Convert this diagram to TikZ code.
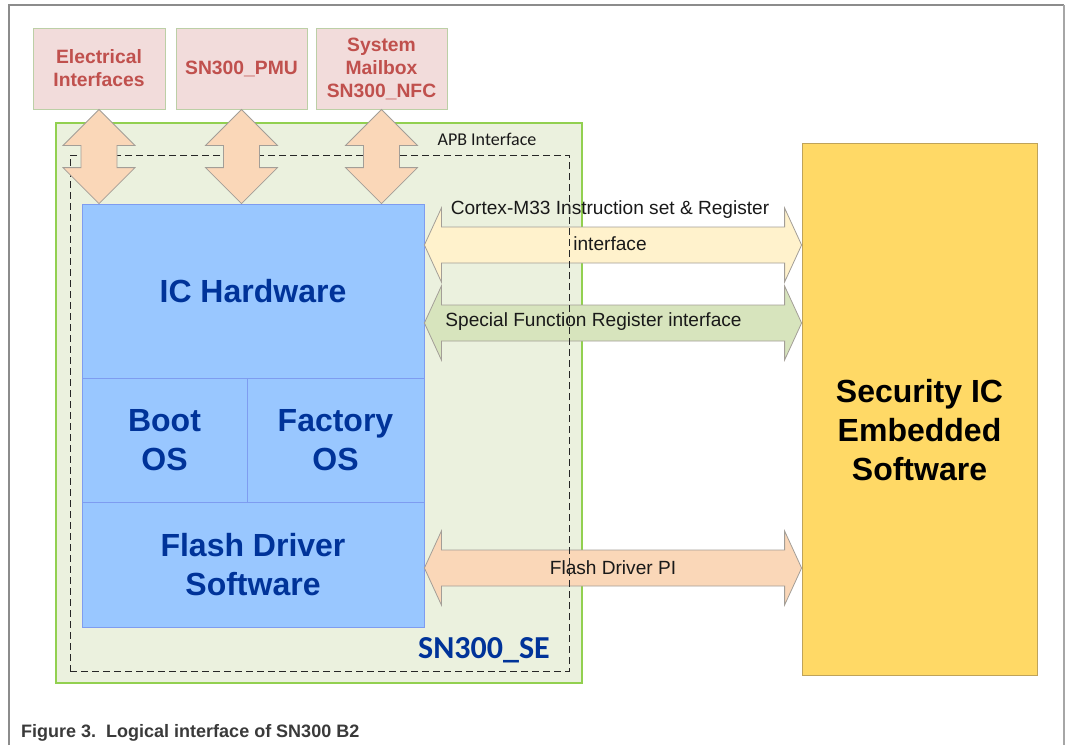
\documentclass[tikz,border=0pt]{standalone}
\usepackage{fontspec}
\setmainfont{Liberation Sans}
\newfontfamily\carlito{Carlito}
\usetikzlibrary{calc}
\definecolor{framegray}{HTML}{8C8C8C}
\definecolor{topfill}{HTML}{F2DCDB}
\definecolor{topborder}{HTML}{BCCFA6}
\definecolor{topred}{HTML}{C0504D}
\definecolor{sefill}{HTML}{EBF1DE}
\definecolor{seborder}{HTML}{92D050}
\definecolor{bluefill}{HTML}{99C7FF}
\definecolor{blueborder}{HTML}{7E9CF0}
\definecolor{bluetext}{HTML}{003399}
\definecolor{peach}{HTML}{FAD7B8}
\definecolor{paleyellow}{HTML}{FFF2CC}
\definecolor{palegreen}{HTML}{D7E4BD}
\definecolor{arrowborder}{HTML}{A39E97}
\definecolor{secfill}{HTML}{FFD966}
\definecolor{secborder}{HTML}{BFA35A}
\definecolor{captiongray}{HTML}{3A3A3A}
\newcommand\vblockarrow[3]{%
  \path[#3] let \p1=#1, \p2=#2 in
   (\x1,\y1) -- (\x1+36pt,\y1-36pt) -- (\x1+18pt,\y1-36pt) -- (\x1+18pt,\y2+36pt)
   -- (\x1+36pt,\y2+36pt) -- (\x1,\y2) -- (\x1-36pt,\y2+36pt) -- (\x1-18pt,\y2+36pt)
   -- (\x1-18pt,\y1-36pt) -- (\x1-36pt,\y1-36pt) -- cycle;}
\newcommand\hblockarrow[3]{%
  \path[#3] let \p1=#1, \p2=#2 in
   (\x1,\y1) -- (\x1+17pt,\y1+37pt) -- (\x1+17pt,\y1+18pt) -- (\x2-17pt,\y1+18pt)
   -- (\x2-17pt,\y1+37pt) -- (\x2,\y1) -- (\x2-17pt,\y1-37pt) -- (\x2-17pt,\y1-18pt)
   -- (\x1+17pt,\y1-18pt) -- (\x1+17pt,\y1-37pt) -- cycle;}
\tikzset{
  topbox/.style={draw=topborder, fill=topfill, line width=1pt, inner sep=0pt,
    minimum width=132pt, minimum height=81pt, align=center, text=topred,
    font=\fontsize{19.3}{23}\selectfont\bfseries},
  bluebox/.style={draw=blueborder, fill=bluefill, line width=0.8pt, inner sep=0pt,
    align=center, text=bluetext, font=\fontsize{32}{39.5}\selectfont\bfseries},
  blockarrow/.style={draw=arrowborder, line width=0.8pt, line join=miter},
  arrowtext/.style={font=\fontsize{19.1}{36}\selectfont, text=black!90, align=center, inner sep=0pt},
}
\begin{document}
\begin{tikzpicture}[x=1pt,y=-1pt]
\useasboundingbox (0,0) rectangle (1066,745);
% page frame
\draw[framegray, line width=1.2pt] (9,745) -- (9,5) -- (1064,5);
\draw[black!35, line width=2pt] (1064,5) -- (1064,745);
% top boxes
\node[topbox] (elec) at (99,68.5) {Electrical\\Interfaces};
\node[topbox, minimum width=131pt] (pmu) at (241.5,68.5) {SN300\_PMU};
\node[topbox, minimum width=131pt] (nfc) at (381.5,68.5) {System\\Mailbox\\SN300\_NFC};
% SE box
\node[draw=seborder, fill=sefill, line width=1.6pt, minimum width=526pt, minimum height=560pt, inner sep=0pt] (se) at (319,403) {};
% security IC box
\node[draw=secborder, fill=secfill, line width=0.8pt, minimum width=235pt, minimum height=532pt, inner sep=0pt] (sec) at (919.5,409) {};
\node[font=\fontsize{32}{39}\selectfont\bfseries, align=center, text=black] (sectext) at (919.5,430) {Security IC\\Embedded\\Software};
% blue blocks
\node[bluebox, minimum width=342pt, minimum height=174pt] (hw) at (253,291) {IC Hardware};
\node[bluebox, minimum width=165pt, minimum height=124pt] (boot) at (164.5,440) {Boot\\OS};
\node[bluebox, minimum width=177pt, minimum height=124pt] (fac) at (335.5,440) {Factory\\OS};
\node[bluebox, minimum width=342pt, minimum height=125pt] (flash) at (253,564.5) {Flash Driver\\Software};
% horizontal block arrows
\hblockarrow{(hw.east |- 0,245)}{(sec.west |- 0,245)}{blockarrow, fill=paleyellow}
\hblockarrow{(hw.east |- 0,323)}{(sec.west |- 0,323)}{blockarrow, fill=palegreen}
\hblockarrow{(flash.east |- 0,568)}{(sec.west |- 0,568)}{blockarrow, fill=peach}
\node[arrowtext] (cortex) at (610,226) {Cortex-M33 Instruction set \& Register\\interface};
\node[arrowtext] (sfr) at (593.5,322) {Special Function Register interface};
\node[arrowtext] (fdpi) at (613,568) {Flash Driver PI};
% APB dashed boundary
\node[draw=black!85, dash pattern=on 7pt off 4pt, line width=1pt, minimum width=499pt, minimum height=516pt, inner sep=0pt] (apb) at (319.5,413) {};
\node[font=\carlito\fontsize{18}{20}\selectfont, text=black!90, inner sep=0pt] (apblabel) at (487,139) {APB Interface};
\node[font=\carlito\fontsize{32}{34}\selectfont\bfseries, text=bluetext, inner sep=0pt] (selabel) at (484,650) {SN300\_SE};
% vertical block arrows
\vblockarrow{(elec.south)}{(elec.south |- hw.north)}{blockarrow, fill=peach}
\vblockarrow{(pmu.south)}{(pmu.south |- hw.north)}{blockarrow, fill=peach}
\vblockarrow{(nfc.south)}{(nfc.south |- hw.north)}{blockarrow, fill=peach}
% caption
\node[anchor=base west, font=\fontsize{18}{20}\selectfont\bfseries, text=captiongray, inner sep=0pt] (caption) at (21,737) {Figure 3.\ \ Logical interface of SN300 B2};
\end{tikzpicture}
\end{document}
